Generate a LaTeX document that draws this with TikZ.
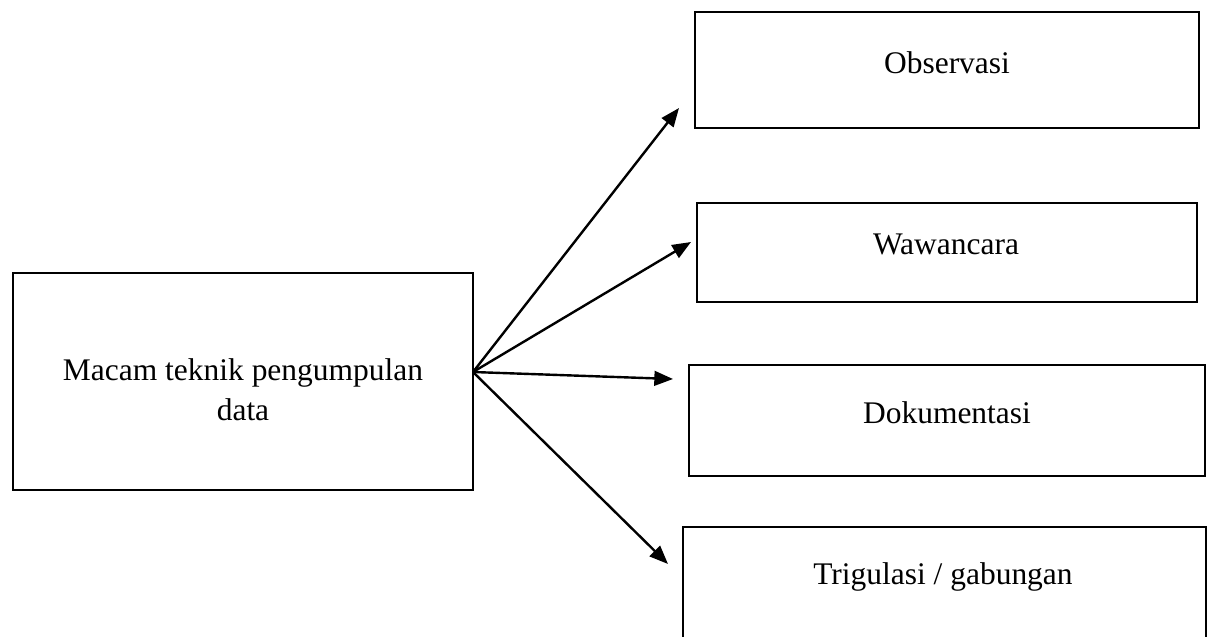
\documentclass[tikz,border=0pt]{standalone}
\usepackage{fontspec}
\setmainfont{Liberation Serif}
\usetikzlibrary{arrows.meta}

\tikzset{every picture/.style={line width=2pt}}
\tikzset{kotak/.style={draw, inner sep=0pt, outer sep=0pt, anchor=north west},
         teks/.style={inner sep=0.75pt, font=\fontsize{23.6}{30}\selectfont, align=center},
         panah/.style={line width=1.8pt, -{Triangle[length=14pt,width=11pt]}}}

\begin{document}
\begin{tikzpicture}[x=0.75pt,y=0.75pt,yscale=-1,xscale=1]
\useasboundingbox (0,0) rectangle (1213,636);
\clip (0,0) rectangle (1213,636);

%Shape: Rectangle [kiri]
\node [kotak, minimum width=345pt, minimum height=162.75pt] (macam) at (13,273) {};
%Shape: Rectangle [kanan]
\node [kotak, minimum width=378pt, minimum height=87pt] (obs) at (695,12) {};
\node [kotak, minimum width=375pt, minimum height=74.25pt] (waw) at (697,203) {};
\node [kotak, minimum width=387pt, minimum height=83.25pt] (dok) at (689,365) {};
\node [kotak, minimum width=392.25pt, minimum height=110pt] (tri) at (683,527) {};

%Arrow points
\coordinate (asal) at (473,372);
\coordinate (ujung1) at (679,108);
\coordinate (ujung2) at (691,242);
\coordinate (ujung3) at (673,379);
\coordinate (ujung4) at (668,564);

%Straight Lines
\draw [panah] (asal) -- (ujung1);
\draw [panah] (asal) -- (ujung2);
\draw [panah] (asal) -- (ujung3);
\draw [panah] (asal) -- (ujung4);

% Text Node
\node [teks] (tmacam) at (243,390) {Macam teknik pengumpulan\\data};
% Text Node
\node [teks] (tobs) at (947,63) {Observasi};
% Text Node
\node [teks] (twaw) at (946,244) {Wawancara};
% Text Node
\node [teks] (tdok) at (947,413) {Dokumentasi};
% Text Node
\node [teks] (ttri) at (943,577) {Trigulasi / gabungan};

\end{tikzpicture}
\end{document}
